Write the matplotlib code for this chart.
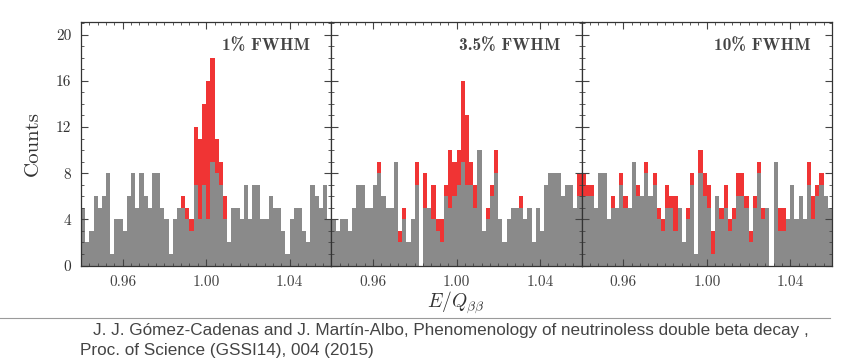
import numpy as np
import matplotlib
matplotlib.use("Agg")
import matplotlib.pyplot as plt
from matplotlib.lines import Line2D
from matplotlib.ticker import MultipleLocator, FixedLocator

# ---------------- data ----------------
x_min, x_max, n_bins = 0.94, 1.06, 60
panel_labels = ["1% FWHM", "3.5% FWHM", "10% FWHM"]
x_ticks = [0.96, 1.00, 1.04]
x_tick_labels = ["0.96", "1.00", "1.04"]
y_ticks = [0, 4, 8, 12, 16, 20]

bkg_1 = [5, 2, 3, 6, 5, 6, 8, 1, 4, 4, 3, 6, 8, 5, 8, 6, 5, 8, 8, 5,
         4, 1, 4, 5, 5, 4, 3, 7, 4, 7, 4, 9, 8, 7, 4, 2, 5, 5, 4, 7,
         4, 7, 7, 4, 4, 6, 5, 5, 3, 1, 4, 5, 5, 3, 2, 7, 6, 5, 7, 4]
sig_1 = [0, 0, 0, 0, 0, 0, 0, 0, 0, 0, 0, 0, 0, 0, 0, 0, 0, 0, 0, 0,
         0, 0, 0, 0, 1, 1, 1, 5, 7, 7, 12, 9, 3, 2, 2, 0, 0, 0, 0, 0,
         0, 0, 0, 0, 0, 0, 0, 0, 0, 0, 0, 0, 0, 0, 0, 0, 0, 0, 0, 0]

bkg_2 = [4, 3, 4, 4, 3, 5, 7, 7, 5, 5, 7, 8, 6, 5, 5, 9, 2, 4, 2, 4,
         7, 0, 5, 5, 4, 3, 2, 6, 5, 6, 7, 9, 7, 7, 5, 10, 3, 4, 6, 8,
         4, 2, 4, 5, 5, 5, 4, 5, 2, 5, 3, 7, 8, 8, 8, 6, 7, 7, 5, 6]
sig_2 = [0, 0, 0, 0, 0, 0, 0, 0, 0, 0, 0, 1, 0, 0, 0, 0, 1, 1, 0, 0,
         2, 0, 3, 0, 3, 1, 2, 1, 5, 3, 3, 7, 6, 2, 2, 0, 0, 1, 1, 2,
         0, 0, 0, 0, 0, 1, 0, 0, 0, 0, 0, 0, 0, 0, 0, 0, 0, 0, 0, 2]

bkg_3 = [6, 6, 6, 5, 8, 8, 4, 5, 5, 7, 5, 5, 9, 6, 6, 8, 6, 7, 4, 3,
         5, 5, 3, 5, 2, 4, 7, 1, 8, 6, 5, 1, 6, 4, 5, 3, 4, 6, 6, 5,
         2, 5, 8, 4, 5, 0, 9, 3, 3, 4, 7, 4, 6, 4, 7, 4, 6, 7, 6, 5]
sig_3 = [2, 1, 1, 0, 0, 0, 0, 1, 0, 1, 1, 0, 0, 1, 0, 1, 0, 1, 1, 1,
         2, 1, 3, 0, 0, 1, 1, 0, 2, 2, 2, 2, 0, 1, 2, 1, 1, 2, 2, 1,
         1, 1, 1, 1, 0, 0, 0, 2, 2, 0, 0, 0, 0, 0, 2, 2, 1, 1, 0, 0]

backgrounds = [bkg_1, bkg_2, bkg_3]
signals = [sig_1, sig_2, sig_3]

# ---------------- style ----------------
GRAY = "#8a8a8a"
RED = "#f03434"
TXT = "#333333"

plt.rcParams["mathtext.fontset"] = "cm"
fig = plt.figure(figsize=(8.44, 3.60), dpi=100)
W, H = 844.0, 360.0
left_px, right_px = 81.0, 832.0
top_px, bot_px = 22.0, 265.5
pw = (right_px - left_px) / 3.0

edges = np.linspace(x_min, x_max, n_bins + 1)

for k in range(3):
    ax = fig.add_axes([(left_px + k * pw) / W, 1 - bot_px / H,
                       pw / W, (bot_px - top_px) / H])
    bkg = np.array(backgrounds[k])
    tot = bkg + np.array(signals[k])
    ax.stairs(tot, edges, fill=True, color=RED, linewidth=0)
    ax.stairs(bkg, edges, fill=True, color=GRAY, linewidth=0)
    ax.set_xlim(x_min, x_max)
    ax.set_ylim(0, 21.1)
    ax.xaxis.set_major_locator(FixedLocator(x_ticks))
    ax.set_xticklabels(x_tick_labels, family="cmr10", fontsize=11, color=TXT)
    ax.xaxis.set_minor_locator(MultipleLocator(0.004))
    ax.yaxis.set_major_locator(FixedLocator(y_ticks))
    ax.yaxis.set_minor_locator(MultipleLocator(1))
    ax.tick_params(which="both", direction="in", top=True, right=True,
                   colors="#444444")
    ax.tick_params(which="major", length=5, width=0.8, pad=7)
    ax.tick_params(which="minor", length=2.5, width=0.6)
    if k == 0:
        ax.set_yticklabels([str(v) for v in y_ticks], family="cmr10",
                           fontsize=11, color=TXT)
        ax.set_ylabel("Counts", family="cmr10", fontsize=15, color=TXT,
                      labelpad=10)
    else:
        ax.set_yticklabels([])
    for s in ax.spines.values():
        s.set_linewidth(0.9)
        s.set_color("#333333")
    ax.text(0.915, 0.905, panel_labels[k], transform=ax.transAxes,
            ha="right", va="center", family="cmb10", fontsize=12.5,
            color="#444444")

fig.text(456 / W, 1 - 303 / H, r"$E/Q_{\beta\beta}$", ha="center",
         va="center", fontsize=14, color=TXT)

fig.add_artist(Line2D([0, 830 / W], [1 - 318 / H, 1 - 318 / H],
                      transform=fig.transFigure, color="#9a9a9a",
                      linewidth=0.8))
fig.text(93 / W, 1 - 331 / H,
         "J. J. Gómez-Cadenas and J. Martín-Albo, Phenomenology of neutrinoless double beta decay ,",
         ha="left", va="center", family="Liberation Sans", fontsize=12.3,
         color="#444444")
fig.text(80 / W, 1 - 350 / H, "Proc. of Science (GSSI14), 004 (2015)",
         ha="left", va="center", family="Liberation Sans", fontsize=12.3,
         color="#444444")

fig.savefig("out.png", dpi=100)
